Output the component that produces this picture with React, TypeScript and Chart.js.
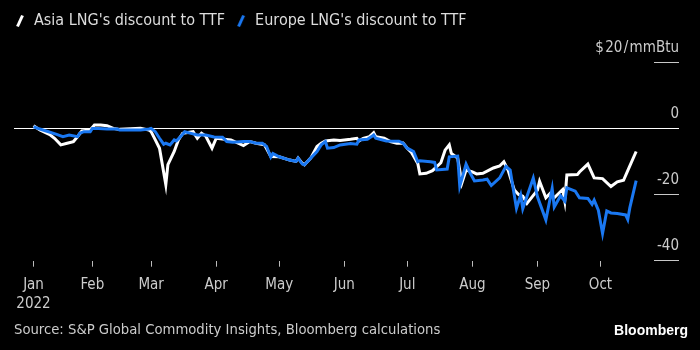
import React, { useEffect, useRef } from 'react';
import { Chart, registerables } from 'chart.js';

Chart.register(...registerables);

const FONT = "'DejaVu Sans Condensed', 'DejaVu Sans', sans-serif";

const seriesNames = ["Asia LNG's discount to TTF", "Europe LNG's discount to TTF"];
const seriesColors = ['#ffffff', '#1a78f2'];

// x = day of 2022 (0 = 1 Jan), values in $/mmBtu
const asiaDays = [3, 6, 11, 13, 16, 19, 22, 24, 26, 30, 32, 35, 38, 41, 44, 54, 58, 59, 61, 63, 66, 67, 70, 72, 74, 79, 81, 83, 85, 88, 90, 97, 103, 106, 109, 113, 116, 120, 125, 128, 129, 131, 132, 135, 138, 140, 142, 146, 149, 154, 157, 158, 160, 163, 165, 166, 170, 173, 176, 179, 181, 183, 186, 187, 190, 193, 197, 199, 201, 202, 205, 207, 209, 212, 214, 217, 222, 225, 227, 229, 232, 234, 236, 238, 243, 244, 247, 249, 251, 255, 256, 257, 262, 263, 267, 270, 274, 278, 281, 284, 286, 290];
const asiaValues = [0.8, -0.5, -2, -3, -5, -4.5, -4, -2.5, -0.8, -0.5, 1, 1, 0.8, 0, -0.3, 0, -0.5, -1, -3.5, -6, -17, -11, -7, -3.5, -1.5, -1, -3, -1.5, -2.3, -6, -3, -3.5, -5.2, -4, -4.5, -5, -8.5, -8.6, -9.6, -10, -9, -10.6, -11, -9, -5.5, -4.5, -3.8, -3.5, -3.7, -3.3, -3, -3.8, -3, -2.5, -1.3, -2.5, -3, -4, -4.5, -4.4, -6, -7.3, -10.6, -13.8, -13.6, -12.8, -10.4, -6.6, -5, -7.6, -9, -16.5, -12.6, -13.2, -13.8, -13.6, -12, -11.4, -10.1, -12.6, -18.7, -20, -20.5, -22.7, -18.7, -16, -21, -19.7, -21, -18.5, -22, -14.1, -14, -13.2, -10.8, -15, -15.2, -17.6, -16.2, -15.7, -12.8, -7];

const europeDays = [3, 6, 9, 14, 17, 20, 24, 25, 27, 30, 31, 34, 38, 43, 44, 49, 54, 58, 59, 61, 63, 65, 66, 68, 70, 71, 73, 75, 78, 81, 85, 89, 93, 95, 98, 103, 106, 109, 112, 114, 116, 117, 120, 125, 128, 129, 131, 132, 135, 138, 140, 142, 143, 146, 149, 154, 157, 158, 162, 164, 165, 166, 171, 177, 179, 181, 184, 186, 187, 192, 194, 195, 200, 201, 205, 206, 209, 211, 213, 217, 219, 221, 225, 228, 230, 233, 235, 236, 241, 243, 247, 250, 251, 254, 256, 257, 261, 263, 267, 269, 270, 272, 274, 276, 278, 281, 285, 286, 287, 290];
const europeValues = [0.5, -0.2, -0.8, -1.8, -2.5, -2, -2.5, -1.5, -1, -1, 0, 0, -0.2, -0.2, -0.5, -0.5, -0.5, -0.2, 0, -1, -3, -4.8, -4.5, -5, -3.5, -3.8, -2.5, -1, -1.5, -2, -2, -2.6, -2.7, -4, -4.2, -4, -4, -4.5, -4.5, -5.5, -8.7, -7.6, -8.6, -9.6, -10, -9, -10.8, -11, -9, -7, -5, -4, -6, -5.8, -5, -4.6, -4.8, -3.5, -3.3, -2.5, -2, -3, -3.8, -3.9, -4.5, -6, -7, -10.1, -9.8, -10.1, -10.3, -12.6, -12.3, -8.6, -8.4, -17.5, -10.8, -13.6, -15.9, -15.6, -15.4, -17.3, -15, -11.5, -12.6, -24.2, -20.2, -24.3, -15, -20.7, -27.7, -18.2, -23.8, -20.4, -22, -18, -19, -21, -21.2, -23, -21.7, -24.8, -31.8, -25, -25.6, -25.8, -26.2, -27.6, -24, -15.8];

const monthTickDays = [3, 31, 59, 90, 120, 151, 181, 212, 243, 273];
const monthTickLabels = ['Jan', 'Feb', 'Mar', 'Apr', 'May', 'Jun', 'Jul', 'Aug', 'Sep', 'Oct'];
const yearLabel = '2022';
const yTickValues = [-40, -20, 0, 20];
const yUnitPrefix = '$\u200A';
const yUnitSuffix = '\u200A/\u200AmmBtu';
const sourceText = 'Source: S&P Global Commodity Insights, Bloomberg calculations';
const brandText = 'Bloomberg';

function makeSlash(color: string) {
  const c = document.createElement('canvas');
  c.width = 10;
  c.height = 14;
  const g = c.getContext('2d')!;
  g.strokeStyle = color;
  g.lineWidth = 3;
  g.beginPath();
  g.moveTo(2.5, 12.5);
  g.lineTo(7.5, 1.5);
  g.stroke();
  return c;
}

export default function App() {
  const ref = useRef<HTMLCanvasElement | null>(null);

  useEffect(() => {
    document.body.style.margin = '0';
    document.body.style.background = '#000';
    const canvas = ref.current;
    if (!canvas) return;

    const brandPlugin = {
      id: 'brand',
      afterDraw(chart: any) {
        const ctx = chart.ctx;
        ctx.save();
        ctx.fillStyle = '#ffffff';
        ctx.font = "bold 14px 'Liberation Sans', Arial, sans-serif";
        ctx.textAlign = 'right';
        ctx.textBaseline = 'middle';
        ctx.fillText(brandText, 688, 331);
        ctx.restore();
      },
    };

    const chart = new Chart(canvas, {
      type: 'line',
      data: {
        datasets: [
          {
            label: seriesNames[0],
            data: asiaDays.map((d, i) => ({ x: d, y: asiaValues[i] })),
            borderColor: seriesColors[0],
            backgroundColor: seriesColors[0],
            borderWidth: 3,
            pointRadius: 0,
            tension: 0,
            order: 1,
          },
          {
            label: seriesNames[1],
            data: europeDays.map((d, i) => ({ x: d, y: europeValues[i] })),
            borderColor: seriesColors[1],
            backgroundColor: seriesColors[1],
            borderWidth: 3,
            pointRadius: 0,
            tension: 0,
            order: 0,
          },
        ],
      },
      options: {
        animation: false,
        responsive: true,
        maintainAspectRatio: false,
        layout: { padding: { left: 4, right: 21, top: 3, bottom: 0 } },
        plugins: {
          tooltip: { enabled: false },
          legend: {
            display: true,
            position: 'top',
            align: 'start',
            labels: {
              usePointStyle: true,
              boxWidth: 12,
              padding: 10,
              color: '#dddddd',
              font: { family: FONT, size: 16 },
              generateLabels: () =>
                [0, 1].map((i) => ({
                  text: seriesNames[i],
                  fillStyle: seriesColors[i],
                  strokeStyle: seriesColors[i],
                  fontColor: '#dddddd',
                  lineWidth: 0,
                  hidden: false,
                  datasetIndex: i,
                  pointStyle: makeSlash(seriesColors[i]),
                })),
            },
          },
          title: {
            display: true,
            text: sourceText,
            position: 'bottom',
            align: 'start',
            fullSize: false,
            color: '#cccccc',
            font: { family: FONT, size: 14.7, weight: 'normal', lineHeight: 1.0 },
            padding: { top: 0, bottom: 12.5 },
          },
        },
        scales: {
          x: {
            type: 'linear',
            min: -6.3,
            max: 298.5,
            afterBuildTicks: (s: any) => {
              s.ticks = monthTickDays.map((v) => ({ value: v }));
            },
            afterFit: (s: any) => {
              s.paddingLeft = 14;
            },
            border: { display: false },
            grid: { drawOnChartArea: false, tickLength: 6, tickColor: '#bbbbbb', color: '#bbbbbb' },
            ticks: {
              autoSkip: false,
              maxRotation: 0,
              minRotation: 0,
              padding: 9,
              color: '#cccccc',
              font: { family: FONT, size: 15, lineHeight: 1.27 },
              callback: (_v: any, i: number) => (i === 0 ? [monthTickLabels[0], yearLabel] : monthTickLabels[i]),
            },
          },
          y: {
            position: 'right',
            min: -40.06,
            max: 27.06,
            afterBuildTicks: (s: any) => {
              s.ticks = yTickValues.map((v) => ({ value: v }));
            },
            afterFit: (s: any) => {
              s.width = 25;
            },
            border: { display: false },
            grid: {
              color: (c: any) => (c.tick && c.tick.value === 0 ? '#ffffff' : 'rgba(0,0,0,0)'),
              tickColor: (c: any) => (c.tick && c.tick.value === 0 ? '#ffffff' : '#c8c8c8'),
              tickLength: 25,
              lineWidth: 1,
            },
            ticks: {
              mirror: true,
              crossAlign: 'near',
              padding: 25,
              labelOffset: -14,
              color: '#cccccc',
              font: { family: FONT, size: 15 },
              callback: (v: any) => (v === 20 ? yUnitPrefix + v + yUnitSuffix : String(v)),
            },
          },
        },
      } as any,
      plugins: [brandPlugin],
    });

    return () => chart.destroy();
  }, []);

  return (
    <div style={{ position: 'relative', width: 700, height: 350 }}>
      <canvas ref={ref} />
    </div>
  );
}
